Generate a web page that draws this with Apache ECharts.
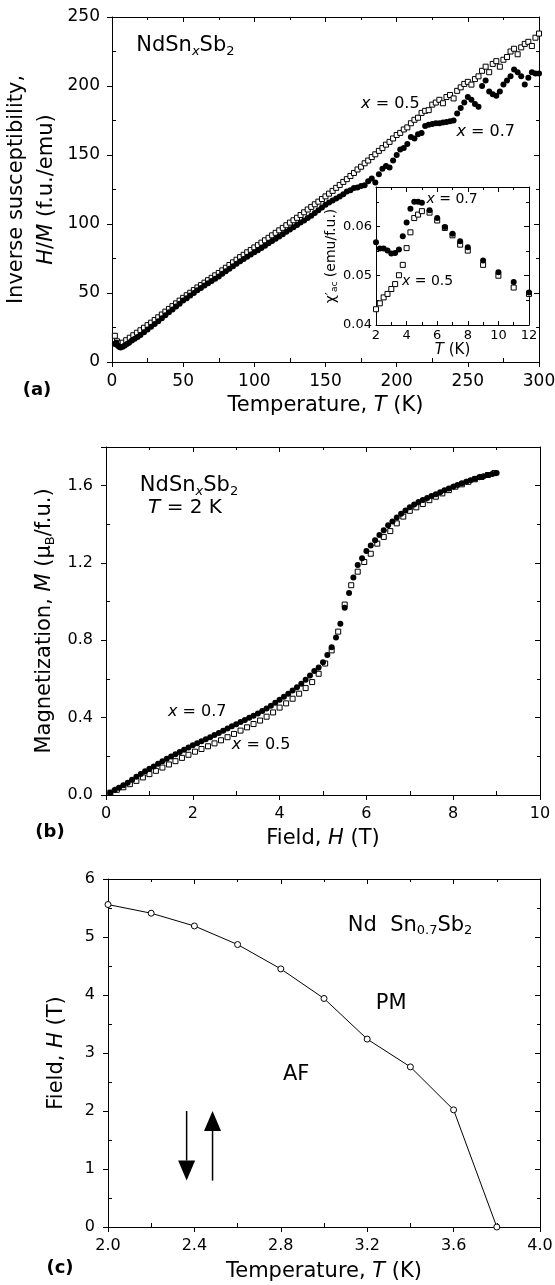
<!DOCTYPE html>
<html><head><meta charset="utf-8">
<script src="https://cdn.jsdelivr.net/npm/echarts@6/dist/echarts.min.js"></script>
<style>html,body{margin:0;padding:0;background:#fff}#c{width:555px;height:1285px}</style>
</head><body><div id="c"></div>
<script>
// ---------- Panel (a): inverse susceptibility H/M vs T ----------
const tempA05 = [2,3.5,5,7.5,10,12.5,15,17.5,20,22.5,25,27.5,30,32.5,35,37.5,40,42.5,45,47.5,50,52.5,55,57.5,60,62.5,65,67.5,70,72.5,75,77.5,80,82.5,85,87.5,90,92.5,95,97.5,100,102.5,105,107.5,110,112.5,115,117.5,120,122.5,125,127.5,130,132.5,135,137.5,140,142.5,145,147.5,150,152.5,155,157.5,160,162.5,165,167.5,170,172.5,175,177.5,180,182.5,185,187.5,190,192.5,195,197.5,200,202.5,205,207.5,210,212.5,215,217.5,220,222.5,225,227.5,230,232.5,235,237.5,240,242.5,245,247.5,250,252.5,255,257.5,260,262.5,265,267.5,270,272.5,275,277.5,280,282.5,285,287.5,290,292.5,295,297.5,300];
const invChiA05 = [19,15,13.5,14,15.8,17.6,19.4,21.2,23,24.8,26.7,28.5,30.4,32.4,34.4,36.5,38.5,40.5,42.5,44.5,46.5,48.4,50.2,52.1,54,55.7,57.5,59.3,61,62.8,64.5,66.4,68.3,70.3,72.2,74.1,76,77.7,79.5,81.2,83,84.7,86.5,88.2,90,91.8,93.6,95.4,97.2,99.1,101,102.7,104.5,106.5,108.5,110.5,112.4,114.3,116.2,118.1,120,122,124,126.2,128.3,130.5,132.5,134.8,137,139.5,141.5,144,146,148.5,150.5,153,155,157.5,159.5,162,164.5,166,168.5,170,173,175.5,177,180.5,182,182.5,186.5,188,190,187.5,192,193.5,191,196.5,199,201.5,203,201,205,207,211,214,210,216,218,214,219,221,225,227,223,228,230.5,232,229,235,238];
const tempA07 = [2,3,4,5,6,7.5,9,10.5,12,14,16,18,20,22.5,25,27.5,30,32.5,35,37.5,40,42.5,45,47.5,50,52.5,55,57.5,60,62.5,65,67.5,70,72.5,75,77.5,80,82.5,85,87.5,90,92.5,95,97.5,100,102.5,105,107.5,110,112.5,115,117.5,120,122.5,125,127.5,130,132.5,135,137.5,140,142.5,145,147.5,150,152.5,155,157.5,160,162.5,165,167.5,170,172.5,175,177.5,180,182.5,185,187.5,190,192.5,195,197.5,200,202.5,205,207.5,210,212.5,215,217.5,220,222.5,225,227.5,230,232.5,235,237.5,240,242.5,245,247.5,250,252.5,255,257.5,260,262.5,265,267.5,270,272.5,275,277.5,280,282.5,285,287.5,290,292.5,295,297.5,300];
const invChiA07 = [13,14,12,11,10.5,11,12,13,14,15.5,16.8,18.2,19.6,21.5,23.5,25.5,27.5,29.6,31.7,33.9,36,38,40.2,42.3,44.5,46.2,48.2,50,52,53.7,55.4,57,58.7,60.3,62,64,65.8,67.6,69.4,71.2,73,74.6,76.2,77.9,79.5,81,82.6,84.2,86,87.6,89.3,91,92.6,94.3,96,97.6,99.3,101,102.6,104.3,106,108,110,112,114,115.5,117,118.5,120,121.5,123.5,124.5,126,126.5,127.5,128,131,133,130,136,140,142,141,146,150,154,155,158,163,162,165,166,171,172,172.5,173,173,173.5,174,174.5,175,180,184,188,192,190,187,185,200,204,196,194,193,196,201,204,207,212,210,207,201,206,210,209,209];
// ---------- Inset: chi'_ac vs T ----------
const tempInset05 = [2.0,2.25,2.5,2.75,3.0,3.25,3.5,3.75,4.0,4.25,4.5,4.75,5.0,5.5,6.0,6.5,7.0,7.5,8.0,9.0,10.0,11.0,12.0];
const chiInset05 = [0.0432,0.0444,0.0456,0.0463,0.0473,0.0483,0.0501,0.0522,0.0556,0.0588,0.0617,0.0624,0.0631,0.0628,0.0612,0.0597,0.0582,0.0563,0.0551,0.0522,0.0500,0.0476,0.0463];
const tempInset07 = [2.0,2.25,2.5,2.75,3.0,3.25,3.5,3.75,4.0,4.25,4.5,4.75,5.0,5.5,6.0,6.5,7.0,7.5,8.0,9.0,10.0,11.0,12.0];
const chiInset07 = [0.0568,0.0555,0.0555,0.0551,0.0545,0.0546,0.0553,0.0580,0.0608,0.0636,0.0650,0.0650,0.0648,0.0633,0.0617,0.0599,0.0585,0.0570,0.0558,0.0531,0.0507,0.0487,0.0466];
// ---------- Panel (b): M vs H at 2 K ----------
const fieldB07 = [0.1,0.2,0.3,0.4,0.5,0.6,0.7,0.8,0.9,1.0,1.1,1.2,1.3,1.4,1.5,1.6,1.7,1.8,1.9,2.0,2.1,2.2,2.3,2.4,2.5,2.6,2.7,2.8,2.9,3.0,3.1,3.2,3.3,3.4,3.5,3.6,3.7,3.8,3.9,4.0,4.1,4.2,4.3,4.4,4.5,4.6,4.7,4.8,4.9,5.0,5.1,5.2,5.3,5.4,5.5,5.6,5.7,5.8,5.9,6.0,6.1,6.2,6.3,6.4,6.5,6.6,6.7,6.8,6.9,7.0,7.1,7.2,7.3,7.4,7.5,7.6,7.7,7.8,7.9,8.0,8.1,8.2,8.3,8.4,8.5,8.6,8.7,8.8,8.9,9.0];
const magB07 = [0.012,0.026,0.038,0.051,0.064,0.079,0.094,0.108,0.123,0.136,0.148,0.161,0.174,0.187,0.199,0.211,0.223,0.234,0.246,0.257,0.268,0.278,0.289,0.299,0.310,0.321,0.332,0.344,0.355,0.366,0.377,0.388,0.399,0.410,0.422,0.435,0.448,0.462,0.477,0.493,0.508,0.524,0.540,0.557,0.576,0.596,0.618,0.642,0.660,0.686,0.724,0.764,0.815,0.886,0.969,1.045,1.125,1.190,1.225,1.262,1.290,1.318,1.345,1.370,1.395,1.415,1.435,1.455,1.472,1.489,1.503,1.515,1.526,1.536,1.546,1.556,1.566,1.576,1.585,1.595,1.603,1.612,1.620,1.628,1.636,1.643,1.649,1.655,1.660,1.665];
const fieldB05 = [0.1,0.25,0.4,0.55,0.7,0.85,1.0,1.15,1.3,1.45,1.6,1.75,1.9,2.05,2.2,2.35,2.5,2.65,2.8,2.95,3.1,3.25,3.4,3.55,3.7,3.85,4.0,4.15,4.3,4.45,4.6,4.75,4.9,5.05,5.2,5.35,5.5,5.65,5.8,5.95,6.1,6.25,6.4,6.55,6.7,6.85,7.0,7.15,7.3,7.45,7.6,7.75,7.9,8.05,8.2,8.35,8.5,8.65,8.8,8.95];
const magB05 = [0.012,0.027,0.040,0.056,0.073,0.091,0.108,0.125,0.142,0.158,0.175,0.192,0.208,0.224,0.238,0.252,0.267,0.283,0.299,0.316,0.333,0.350,0.367,0.385,0.405,0.427,0.452,0.474,0.498,0.524,0.553,0.584,0.627,0.680,0.748,0.845,0.985,1.085,1.155,1.205,1.248,1.300,1.335,1.365,1.405,1.440,1.470,1.488,1.505,1.525,1.543,1.560,1.577,1.595,1.607,1.620,1.633,1.645,1.655,1.665];
// ---------- Panel (c): phase diagram Nd Sn0.7 Sb2 ----------
const tempC = [2.0,2.2,2.4,2.6,2.8,3.0,3.2,3.4,3.6,3.8];
const fieldC = [5.56,5.41,5.19,4.87,4.45,3.94,3.24,2.76,2.02,0.0];

// axis ranges / ticks
const axisA = {xMin:0, xMax:300, xStep:50, yMin:0, yMax:250, yStep:50};
const axisInset = {xMin:2, xMax:12, xStep:2, yMin:0.04, yMax:0.068, yStep:0.01};
const axisB = {xMin:0, xMax:10, xStep:2, yMin:0, yMax:1.8, yStep:0.4};
const axisC = {xMin:2.0, xMax:4.0, xStep:0.4, yMin:0, yMax:6, yStep:1};

const FONT = 'DejaVu Sans';
const K = '#000';
const zip = (a, b) => a.map((v, i) => [v, b[i]]);

function rich(size, lh) {
  return {
    n: {fontFamily: FONT, fontSize: size, lineHeight: lh, color: K},
    i: {fontFamily: FONT, fontSize: size, lineHeight: lh, fontStyle: 'italic', color: K},
    sb: {fontFamily: FONT, fontSize: Math.round(size * 0.62), lineHeight: Math.round(lh * 0.45), verticalAlign: 'bottom', color: K},
    si: {fontFamily: FONT, fontSize: Math.round(size * 0.62), lineHeight: Math.round(lh * 0.45), verticalAlign: 'bottom', fontStyle: 'italic', color: K}
  };
}

function mainAxis(dim, gridIndex, rng, o) {
  const isX = dim === 'x';
  return {
    type: 'value', gridIndex,
    position: isX ? 'bottom' : 'left',
    min: isX ? rng.xMin : rng.yMin, max: isX ? rng.xMax : rng.yMax, interval: isX ? rng.xStep : rng.yStep,
    axisLine: {show: true, onZero: false, lineStyle: {color: K, width: 1}},
    axisTick: {show: true, inside: !!o.inside, length: o.tick || 5, lineStyle: {color: K, width: 1}},
    minorTick: {show: true, splitNumber: 2, length: o.inside ? 3 : -4, lineStyle: {color: K, width: 1}},
    splitLine: {show: false}, minorSplitLine: {show: false},
    axisLabel: {show: true, margin: o.margin, color: K, fontFamily: FONT, fontSize: o.labelSize,
      formatter: o.fmt, showMaxLabel: o.hideMax ? false : null},
    name: o.name, nameLocation: 'middle', nameGap: o.nameGap,
    nameTextStyle: {fontFamily: FONT, fontSize: o.nameSize, color: K, rich: rich(o.nameSize, o.nameLH)}
  };
}
function mirrorAxis(dim, gridIndex, rng) {
  const isX = dim === 'x';
  return {
    type: 'value', gridIndex,
    position: isX ? 'top' : 'right',
    min: isX ? rng.xMin : rng.yMin, max: isX ? rng.xMax : rng.yMax, interval: isX ? rng.xStep : rng.yStep,
    axisLine: {show: true, onZero: false, lineStyle: {color: K, width: 1}},
    axisTick: {show: true, inside: true, length: 5, lineStyle: {color: K, width: 1}},
    minorTick: {show: true, splitNumber: 2, length: 3, lineStyle: {color: K, width: 1}},
    splitLine: {show: false}, axisLabel: {show: false}
  };
}

const f1 = v => v.toFixed(1);
const f2 = v => v.toFixed(2);

const option = {
  animation: false,
  backgroundColor: '#fff',
  grid: [
    {left: 112, top: 17, width: 427, height: 345, outerBoundsMode: 'none'},
    {left: 376, top: 187, width: 153, height: 138, outerBoundsMode: 'none', show: true, backgroundColor: '#fff', borderWidth: 0},
    {left: 106, top: 447, width: 434, height: 348, outerBoundsMode: 'none'},
    {left: 108, top: 879, width: 432, height: 348, outerBoundsMode: 'none'}
  ],
  xAxis: [
    mainAxis('x', 0, axisA, {margin: 11, labelSize: 17, name: '{n|Temperature, }{i|T}{n| (K)}', nameGap: 32, nameSize: 21, nameLH: 24}),
    mirrorAxis('x', 0, axisA),
    mainAxis('x', 1, axisInset, {inside: true, tick: 4, margin: 4, labelSize: 13, name: '{i|T}{n| (K)}', nameGap: 17, nameSize: 15, nameLH: 17}),
    mirrorAxis('x', 1, axisInset),
    mainAxis('x', 2, axisB, {margin: 11, labelSize: 16, name: '{n|Field, }{i|H}{n| (T)}', nameGap: 32, nameSize: 21, nameLH: 24}),
    mirrorAxis('x', 2, axisB),
    mainAxis('x', 3, axisC, {margin: 11, labelSize: 16, fmt: f1, name: '{n|Temperature, }{i|T}{n| (K)}', nameGap: 33, nameSize: 21, nameLH: 24}),
    mirrorAxis('x', 3, axisC)
  ],
  yAxis: [
    mainAxis('y', 0, axisA, {margin: 12, labelSize: 17, name: '{n|Inverse susceptibility,}\n{i|H}{n|/}{i|M}{n| (f.u./emu)}', nameGap: 39, nameSize: 21, nameLH: 30}),
    mirrorAxis('y', 0, axisA),
    mainAxis('y', 1, axisInset, {inside: true, tick: 4, margin: 4, labelSize: 13, fmt: f2, hideMax: true, name: '{n|χ′}{sb|ac}{n| (emu/f.u.)}', nameGap: 33, nameSize: 14, nameLH: 16}),
    mirrorAxis('y', 1, axisInset),
    mainAxis('y', 2, axisB, {margin: 13, labelSize: 16, fmt: f1, hideMax: true, name: '{n|Magnetization, }{i|M}{n| (μ}{sb|B}{n|/f.u.)}', nameGap: 49, nameSize: 21, nameLH: 24}),
    mirrorAxis('y', 2, axisB),
    mainAxis('y', 3, axisC, {margin: 13, labelSize: 16, name: '{n|Field, }{i|H}{n| (T)}', nameGap: 39, nameSize: 21, nameLH: 24}),
    mirrorAxis('y', 3, axisC)
  ],
  series: [
    {type: 'scatter', xAxisIndex: 0, yAxisIndex: 0, data: zip(tempA05, invChiA05), symbol: 'rect', symbolSize: 5,
      itemStyle: {color: '#fff', borderColor: K, borderWidth: 1, opacity: 1}},
    {type: 'scatter', xAxisIndex: 0, yAxisIndex: 0, data: zip(tempA07, invChiA07), symbol: 'circle', symbolSize: 6,
      itemStyle: {color: K, opacity: 1}},
    {type: 'scatter', xAxisIndex: 2, yAxisIndex: 2, data: zip(tempInset05, chiInset05), symbol: 'rect', symbolSize: 5,
      itemStyle: {color: '#fff', borderColor: K, borderWidth: 1, opacity: 1}, z: 5},
    {type: 'scatter', xAxisIndex: 2, yAxisIndex: 2, data: zip(tempInset07, chiInset07), symbol: 'circle', symbolSize: 6,
      itemStyle: {color: K, opacity: 1}, z: 5},
    {type: 'scatter', xAxisIndex: 4, yAxisIndex: 4, data: zip(fieldB05, magB05), symbol: 'rect', symbolSize: 5,
      itemStyle: {color: '#fff', borderColor: K, borderWidth: 1, opacity: 1}},
    {type: 'scatter', xAxisIndex: 4, yAxisIndex: 4, data: zip(fieldB07, magB07), symbol: 'circle', symbolSize: 6,
      itemStyle: {color: K, opacity: 1}},
    {type: 'line', xAxisIndex: 6, yAxisIndex: 6, data: zip(tempC, fieldC), symbol: 'circle', symbolSize: 6,
      showAllSymbol: true, lineStyle: {color: K, width: 1}, itemStyle: {color: '#fff', borderColor: K, borderWidth: 1, opacity: 1}}
  ]
};

const chart = echarts.init(document.getElementById('c'), null, {renderer: 'canvas'});
chart.setOption(option);

function px(seriesIndex, x, y) { return chart.convertToPixel({seriesIndex}, [x, y]); }
function label(seriesIndex, x, y, text, size, lh) {
  const p = px(seriesIndex, x, y);
  return {type: 'text', x: p[0], y: p[1], z: 100,
    style: {text, rich: rich(size, lh), fontFamily: FONT, fontSize: size, fill: K,
      textAlign: 'left', textVerticalAlign: 'middle', align: 'left', verticalAlign: 'middle'}};
}
function fixedLabel(x, y, text) {
  return {type: 'text', x, y, z: 100,
    style: {text, fontFamily: FONT, fontSize: 18, fontWeight: 'bold', fill: K,
      textAlign: 'center', textVerticalAlign: 'middle', align: 'center', verticalAlign: 'middle'}};
}
function arrow(seriesIndex, x, y0, y1) {
  const a = px(seriesIndex, x, y0), b = px(seriesIndex, x, y1);
  const dir = b[1] > a[1] ? 1 : -1;
  const headLen = 20, headHalf = 8.5;
  return [
    {type: 'line', z: 100, shape: {x1: a[0], y1: a[1], x2: b[0], y2: b[1] - dir * headLen}, style: {stroke: K, lineWidth: 1.5}},
    {type: 'polygon', z: 100, shape: {points: [[b[0] - headHalf, b[1] - dir * headLen], [b[0] + headHalf, b[1] - dir * headLen], [b[0], b[1]]]}, style: {fill: K}}
  ];
}

const graphics = [
  label(0, 17, 229, '{n|NdSn}{si|x}{n|Sb}{sb|2}', 21, 24),
  label(0, 175, 187, '{i|x}{n| = 0.5}', 16, 18),
  label(0, 242, 167, '{i|x}{n| = 0.7}', 16, 18),
  label(2, 5.3, 0.0654, '{i|x}{n| = 0.7}', 14, 16),
  label(2, 3.7, 0.0489, '{i|x}{n| = 0.5}', 14, 16),
  label(4, 0.78, 1.60, '{n|NdSn}{si|x}{n|Sb}{sb|2}', 21, 24),
  label(4, 0.97, 1.485, '{i|T}{n| = 2 K}', 20, 24),
  label(4, 1.43, 0.43, '{i|x}{n| = 0.7}', 16, 18),
  label(4, 2.9, 0.262, '{i|x}{n| = 0.5}', 16, 18),
  label(6, 3.11, 5.2, '{n|Nd  Sn}{sb|0.7}{n|Sb}{sb|2}', 21, 24),
  label(6, 3.24, 3.85, '{n|PM}', 21, 24),
  label(6, 2.81, 2.62, '{n|AF}', 21, 24),
  fixedLabel(37, 390, '(a)'),
  fixedLabel(50, 832, '(b)'),
  fixedLabel(60, 1268, '(c)')
].concat(arrow(6, 2.364, 2.0, 0.8), arrow(6, 2.484, 0.8, 2.0));

chart.setOption({graphic: graphics});
</script>
</body></html>
